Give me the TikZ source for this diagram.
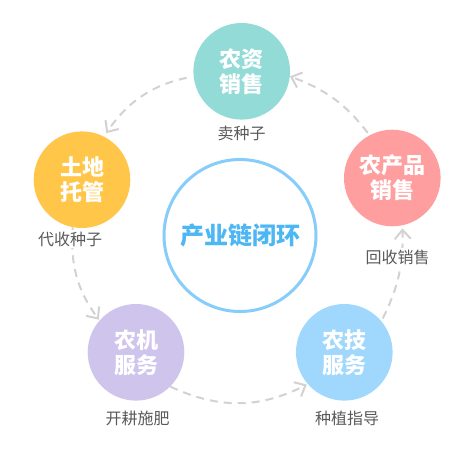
\documentclass[tikz,border=0pt]{standalone}
\usepackage{fontspec}
\newfontfamily\cjk{Noto Sans CJK SC}
\usetikzlibrary{arrows.meta}
\definecolor{cteal}{RGB}{146,219,214}
\definecolor{cpink}{RGB}{255,158,158}
\definecolor{cblue}{RGB}{160,216,253}
\definecolor{clav}{RGB}{206,196,236}
\definecolor{cyel}{RGB}{255,198,74}
\definecolor{hubline}{RGB}{135,205,250}
\definecolor{hubtext}{RGB}{77,182,244}
\definecolor{labgray}{RGB}{90,90,90}
\definecolor{arrowgray}{RGB}{210,210,210}
\tikzset{
  circ/.style={circle, minimum size=96.6pt, inner sep=0pt, draw=none, text=white,
    align=center, font=\cjk\bfseries\fontsize{22}{25}\selectfont},
  hub/.style={circle, minimum size=152pt, inner sep=0pt, draw=hubline, line width=3pt,
    fill=white, text=hubtext, font=\cjk\bfseries\fontsize{24}{26}\selectfont},
  lab/.style={fill=white, text=labgray, inner sep=2pt,
    font=\cjk\fontsize{16}{18}\selectfont},
  flow/.style={draw=arrowgray, line width=2pt, dash pattern=on 8pt off 6pt,
    -{Straight Barb[length=9pt,width=16pt]}}
}
\begin{document}
\begin{tikzpicture}[x=1pt,y=-1pt]
\useasboundingbox (0,0) rectangle (457,450);
\fill[white] (0,0) rectangle (457,450);
\node[circ, fill=cteal] (zi) at (241.7,71.3) {农资\\销售};
\node[circ, fill=cpink] (cp) at (392.3,178) {农产品\\销售};
\node[circ, fill=cblue] (js) at (344.3,352.3) {农技\\服务};
\node[circ, fill=clav] (jx) at (136,352.3) {农机\\服务};
\node[circ, fill=cyel] (td) at (82,179.7) {土地\\托管};
\node[hub] (hub) at (240,235.5) {产业链闭环};
\draw[flow, shorten <=3pt] (cp.118) to[bend right=16] (zi.-6);
\draw[flow, shorten <=7pt, shorten >=4pt] (zi.186) to[bend right=22] (td.63);
\draw[flow, shorten >=1pt] (td.259) to[bend right=20] (jx.139);
\draw[flow, shorten >=1pt] (jx.315) to[bend right=26] (js.221);
\draw[flow, shorten <=3pt, shorten >=3pt] (js.40) to[bend right=14] (cp.-78);
\node[lab] (l1) at (241.5,133) {卖种子};
\node[lab] (l2) at (397.5,257) {回收销售};
\node[lab] (l3) at (347,418) {种植指导};
\node[lab] (l4) at (137.5,418) {开耕施肥};
\node[lab] (l5) at (70,239) {代收种子};
\end{tikzpicture}
\end{document}
